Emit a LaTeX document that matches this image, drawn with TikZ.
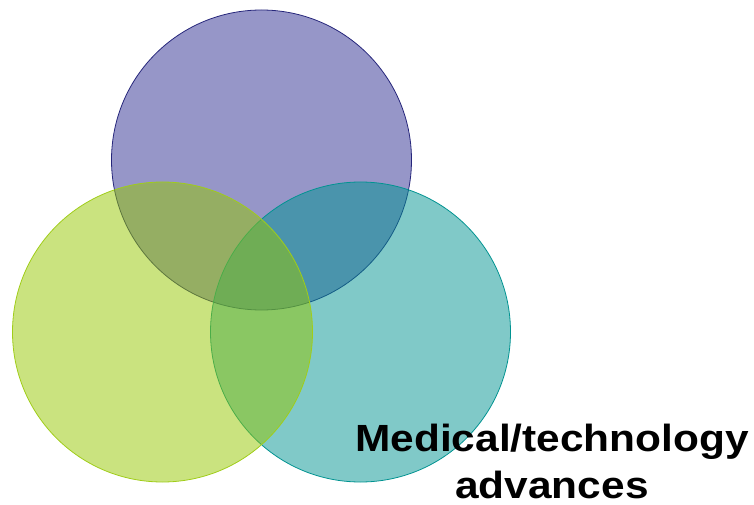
\documentclass[tikz,border=0pt]{standalone}
\usepackage{fontspec}
\setmainfont{Liberation Sans}
\usepackage{xcolor}
\definecolor{VennPurple}{RGB}{45,45,145}
\definecolor{VennTeal}{RGB}{1,147,145}
\definecolor{VennGreen}{RGB}{149,199,0}

\begin{document}
\begin{tikzpicture}[x=1bp, y=-1bp, line width=0.8pt,
        every circle node/.append style={minimum size=300bp, inner sep=0pt, fill opacity=0.5, draw opacity=1}]
      \tikzstyle{caption} = [font=\fontsize{38}{47}\selectfont\bfseries, align=center, color=black, inner sep=0pt, xscale=1.12, transform shape]
      \useasboundingbox (0,0) rectangle (754,505);
      \node (health) [circle, fill=VennPurple, draw=VennPurple!85!black] at (261.5,160) {};
      \node (medical) [circle, fill=VennTeal, draw=VennTeal] at (360.5,332) {};
      \node (social) [circle, fill=VennGreen, draw=VennGreen!90!white] at (162.5,332) {};
      \node (advances) [caption, anchor=base] at (552,498) {Medical/technology\\advances};
    \end{tikzpicture}
\end{document}
